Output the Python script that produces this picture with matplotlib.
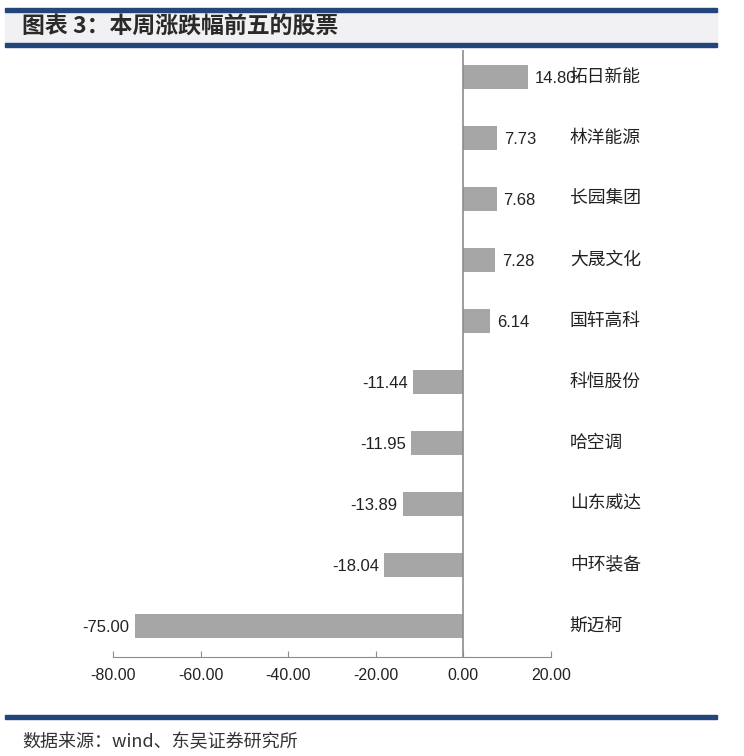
import matplotlib.pyplot as plt
import matplotlib.patches as mpatches

plt.rcParams['font.family'] = ['Noto Sans CJK SC', 'DejaVu Sans']

# 数据
names = ['拓日新能', '林洋能源', '长园集团', '大晟文化', '国轩高科',
         '科恒股份', '哈空调', '山东威达', '中环装备', '斯迈柯']
values = [14.80, 7.73, 7.68, 7.28, 6.14, -11.44, -11.95, -13.89, -18.04, -75.00]
xticks = [-80, -60, -40, -20, 0, 20]

W, H = 744, 756
fig = plt.figure(figsize=(W / 100, H / 100), dpi=100)

# 标题栏
fig.patches.append(mpatches.Rectangle((5 / W, 1 - 45 / H), 712 / W, 35 / H,
                                      transform=fig.transFigure, color='#F1F1F3', zorder=0))
fig.patches.append(mpatches.Rectangle((5 / W, 1 - 12 / H), 712 / W, 4 / H,
                                      transform=fig.transFigure, color='#23457A', zorder=1))
fig.patches.append(mpatches.Rectangle((5 / W, 1 - 47 / H), 712 / W, 4 / H,
                                      transform=fig.transFigure, color='#23457A', zorder=1))
fig.text(22 / W, 1 - 27 / H, '图表 3：本周涨跌幅前五的股票', fontsize=16.5, fontweight='bold',
         color='#2a2a2a', va='center', ha='left')

# 底部
fig.patches.append(mpatches.Rectangle((5 / W, 1 - 719 / H), 712 / W, 4 / H,
                                      transform=fig.transFigure, color='#23457A', zorder=1))
fig.text(22 / W, 1 - 742 / H, '数据来源：wind、东吴证券研究所', fontsize=13,
         color='#333333', va='center', ha='left')

# 主图
ax = fig.add_axes([113 / W, 1 - 657 / H, 438 / W, 607 / H])
y = list(range(len(names)))
ax.barh(y, values, height=0.4, color='#A6A6A6', zorder=2)
ax.set_xlim(-80, 20)
ax.set_ylim(9.51, -0.44)
ax.axvline(0, color='#8C8C8C', lw=1.2, zorder=3)

for i, v in enumerate(values):
    if v >= 0:
        ax.text(v + 1.5, i + 0.03, '%.2f' % v, ha='left', va='center', fontsize=12,
                family=['Liberation Sans', 'DejaVu Sans'], color='#222222')
    else:
        ax.text(v - 1.2, i + 0.03, '%.2f' % v, ha='right', va='center', fontsize=12,
                family=['Liberation Sans', 'DejaVu Sans'], color='#222222')
    ax.text(24.3, i, names[i], ha='left', va='center', fontsize=12.8,
            color='#222222', clip_on=False)

for s in ['top', 'right', 'left']:
    ax.spines[s].set_visible(False)
ax.spines['bottom'].set_color('#8C8C8C')
ax.set_yticks([])
ax.set_xticks(xticks)
ax.set_xticklabels(['%.2f' % t for t in xticks], fontsize=11.5,
                   family=['Liberation Sans', 'DejaVu Sans'], color='#222222')
ax.tick_params(axis='x', direction='in', length=4, color='#8C8C8C', pad=8)

plt.savefig('out.png', dpi=100)
